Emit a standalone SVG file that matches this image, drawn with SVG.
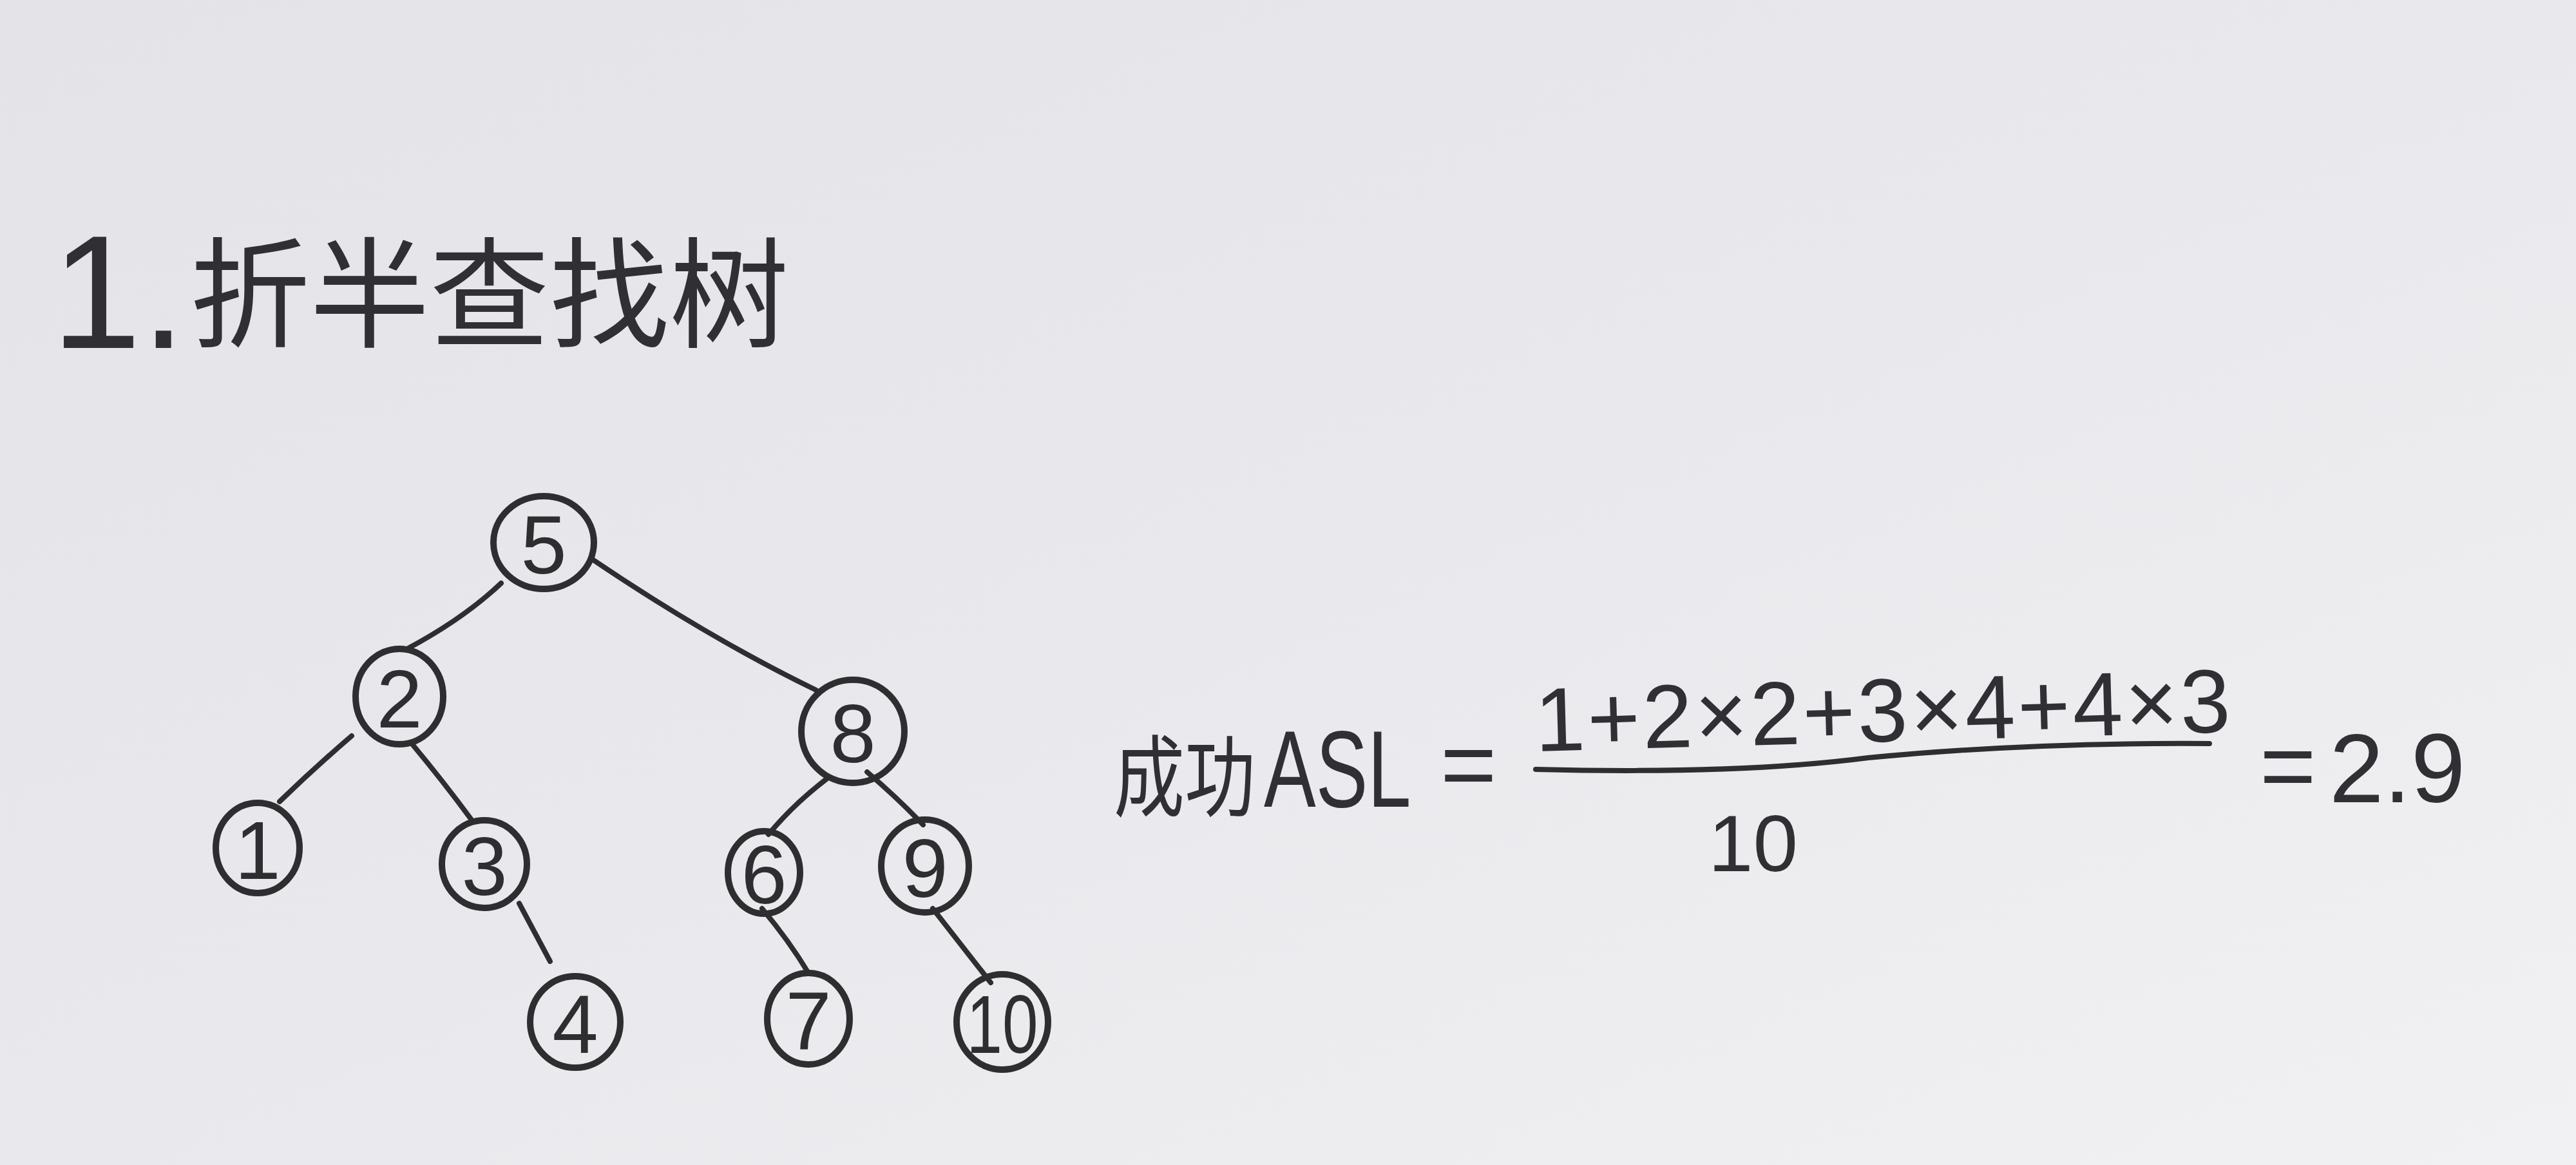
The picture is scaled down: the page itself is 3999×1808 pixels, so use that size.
<svg xmlns="http://www.w3.org/2000/svg" width="3999" height="1808" viewBox="0 0 3999 1808">
<defs>
<linearGradient id="paper" x1="0" y1="0" x2="1" y2="1">
<stop offset="0" stop-color="#e3e3e8"/>
<stop offset="0.5" stop-color="#e9e9ed"/>
<stop offset="1" stop-color="#f1f1f3"/>
</linearGradient>
<style>
.node ellipse{fill:none;stroke:#2e2e30;stroke-width:10}
.node text{font-family:"Liberation Sans","Noto Sans CJK SC",sans-serif;font-size:128px;fill:#2e2e30;text-anchor:middle;dominant-baseline:central}
.edge{fill:none;stroke:#2e2e30;stroke-width:8;stroke-linecap:round}
.hw{font-family:"Liberation Sans","Noto Sans CJK SC",sans-serif;fill:#303034}
</style>
</defs>
<rect width="3999" height="1808" fill="url(#paper)"/>

<g id="title">
<text class="hw" x="80" y="540" font-size="250" font-weight="300">1.</text>
<text class="hw" x="295" y="525" font-size="186">折半查找树</text>
</g>

<g id="connectors">
<path class="edge" d="M778,905 Q720,960 632,1007"/>
<path class="edge" d="M918,867 Q1100,990 1267,1071"/>
<path class="edge" d="M546,1142 Q490,1190 434,1244"/>
<path class="edge" d="M640,1155 Q690,1215 734,1275"/>
<path class="edge" d="M806,1402 L854,1492"/>
<path class="edge" d="M1283,1209 Q1230,1250 1193,1295"/>
<path class="edge" d="M1346,1198 Q1395,1240 1433,1280"/>
<path class="edge" d="M1183,1410 Q1225,1460 1255,1510"/>
<path class="edge" d="M1448,1410 Q1495,1470 1538,1525"/>
</g>

<g id="n5" class="node"><ellipse cx="844" cy="842" rx="78" ry="72"/><text x="844" y="845">5</text></g>
<g id="n2" class="node"><ellipse cx="620" cy="1081" rx="68" ry="74"/><text x="620" y="1084">2</text></g>
<g id="n8" class="node"><ellipse cx="1324" cy="1135" rx="80" ry="80"/><text x="1324" y="1138">8</text></g>
<g id="n1" class="node"><ellipse cx="400" cy="1316" rx="65" ry="70"/><text x="400" y="1319">1</text></g>
<g id="n3" class="node"><ellipse cx="752" cy="1341" rx="66" ry="68"/><text x="752" y="1344">3</text></g>
<g id="n6" class="node"><ellipse cx="1186" cy="1354" rx="56" ry="64"/><text x="1186" y="1357">6</text></g>
<g id="n9" class="node"><ellipse cx="1436" cy="1344" rx="68" ry="72"/><text x="1436" y="1347">9</text></g>
<g id="n4" class="node"><ellipse cx="893" cy="1586" rx="70" ry="71"/><text x="893" y="1589">4</text></g>
<g id="n7" class="node"><ellipse cx="1255" cy="1581" rx="64" ry="71"/><text x="1255" y="1584">7</text></g>
<g id="n10" class="node"><ellipse cx="1556" cy="1586" rx="71" ry="74"/><text x="0" y="0" font-size="112" transform="translate(1556 1589) scale(0.78 1)">10</text></g>

<g id="formula">
<text class="hw" x="0" y="0" font-size="110" transform="translate(1729 1256) scale(1 1.25)">成功</text>
<text class="hw" x="0" y="0" font-size="168" transform="translate(1962 1252) scale(0.72 1)">ASL</text>
<text class="hw" x="2236" y="1238" font-size="150">=</text>
<text class="hw" x="2384" y="1166" font-size="140" textLength="1080" lengthAdjust="spacing" transform="rotate(-1.6 2384 1166)">1+2×2+3×4+4×3</text>
<path class="edge" stroke-width="12" d="M2384,1194 Q2700,1202 2900,1176 Q3150,1152 3430,1154"/>
<text class="hw" x="2652" y="1352" font-size="125">10</text>
<text class="hw" x="3508" y="1240" font-size="150">=</text>
<text class="hw" x="3616" y="1245" font-size="152">2.9</text>
</g>
</svg>
